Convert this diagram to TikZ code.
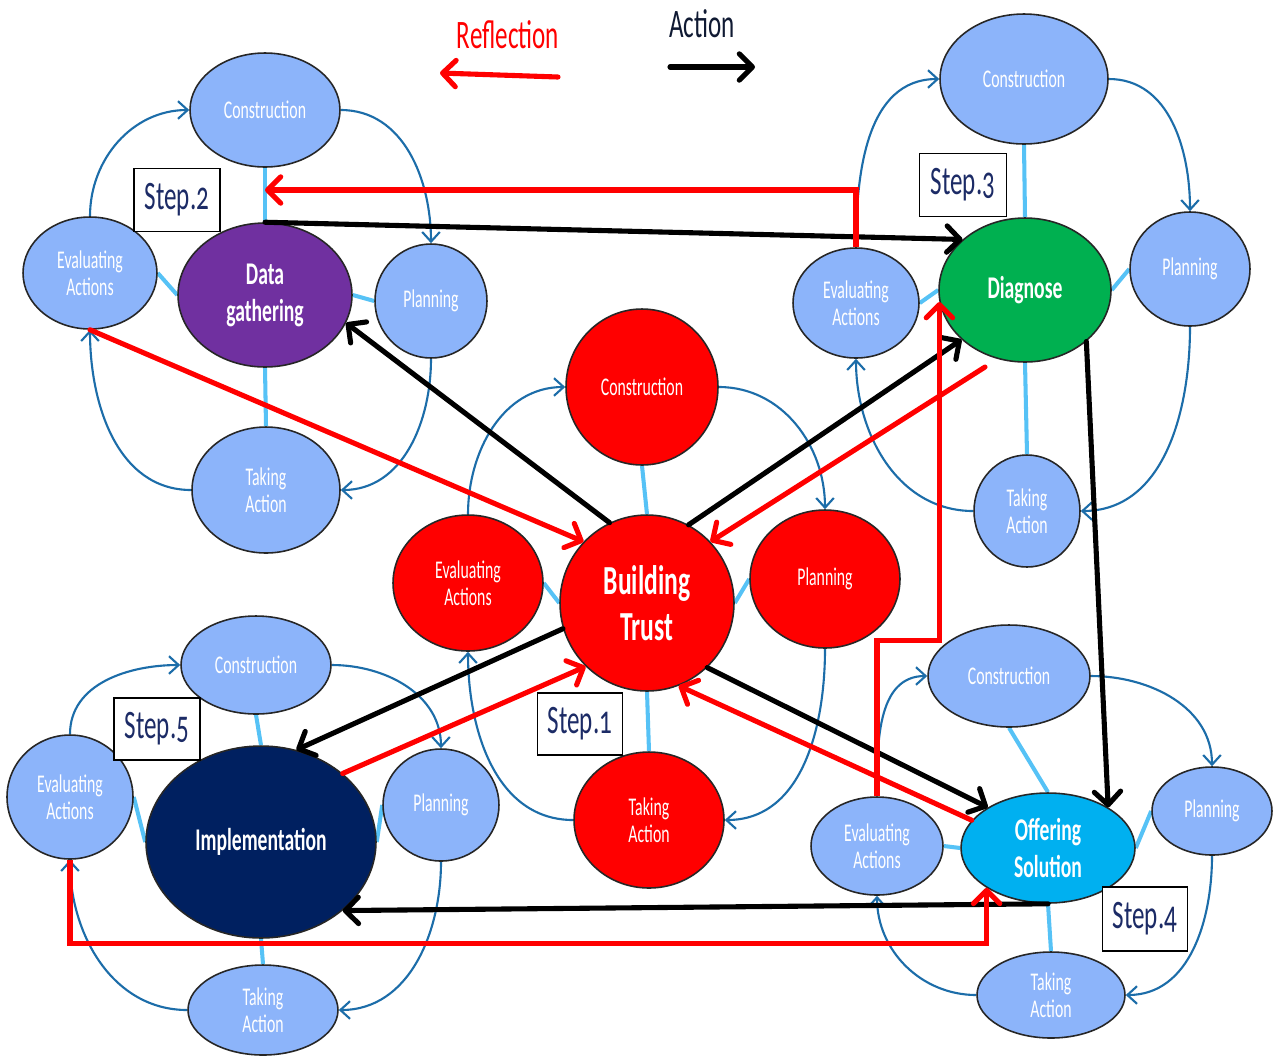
\documentclass[tikz,border=0pt]{standalone}
\usepackage{fontspec}
\setmainfont[FakeStretch=0.62]{Carlito}
\usetikzlibrary{arrows.meta, shapes.geometric, backgrounds}
\definecolor{satblue}{HTML}{8CB4FA}
\definecolor{spokeblue}{HTML}{56C2F6}
\definecolor{cycblue}{HTML}{1C6DA9}
\definecolor{dgpurple}{HTML}{7030A0}
\definecolor{diagreen}{HTML}{00B050}
\definecolor{oscyan}{HTML}{00B0F0}
\definecolor{impnavy}{HTML}{002060}
\definecolor{stepnavy}{HTML}{1C2B66}
\definecolor{actnavy}{HTML}{101A33}

\begin{document}
\begin{tikzpicture}[x=0.02cm, y=0.02cm, every node/.style={inner sep=0pt},
    sat/.style={ellipse, draw=black!85, line width=0.9pt, fill=satblue, text=white,
      align=center, font=\fontsize{14.5}{15.5}\selectfont},
    redsat/.style={sat, fill=red},
    hub/.style={ellipse, draw=black!85, line width=0.9pt, text=white, align=center,
      font=\fontsize{18}{21}\selectfont\bfseries},
    sz/.style 2 args={minimum width=#1cm, minimum height=#2cm},
    spoke/.style={draw=spokeblue, line width=2.3pt},
    cyc/.style={draw=cycblue, line width=1.2pt, -{Straight Barb[length=5.5pt,width=10pt]}},
    actline/.style={line width=2.9pt, line cap=round, -{Straight Barb[length=7.5pt,width=15pt,round]}},
    refline/.style={actline, draw=red},
    stepbox/.style={draw, line width=0.8pt, fill=white, text=stepnavy,
      font=\fontsize{23}{23}\selectfont\addfontfeatures{Numbers=OldStyle}},
  ]
  % step 1 - building trust
  \node[hub, sz={3.48}{3.52}, fill=red, font=\fontsize{23.5}{26}\selectfont\bfseries] (h1) at (647,-603) {Building\\Trust};
  \node[redsat, sz={3.04}{3.12}] (co1) at (642,-387) {Construction};
  \node[redsat, sz={3}{2.76}] (pl1) at (825,-579) {Planning};
  \node[redsat, sz={3}{2.72}] (ta1) at (649,-820) {Taking\\Action};
  \node[redsat, sz={3}{2.72}] (ev1) at (468,-583) {Evaluating\\Actions};
  % step 2 - data gathering
  \node[hub, sz={3.48}{2.88}, fill=dgpurple] (h2) at (265,-295) {Data\\gathering};
  \node[sat, sz={3}{2.28}] (co2) at (265,-110) {Construction};
  \node[sat, sz={2.24}{2.28}] (pl2) at (431,-301) {Planning};
  \node[sat, sz={2.96}{2.52}] (ta2) at (266,-490) {Taking\\Action};
  \node[sat, sz={2.68}{2.24}] (ev2) at (90,-273) {Evaluating\\Actions};
  % step 3 - diagnose
  \node[hub, sz={3.44}{2.88}, fill=diagreen] (h3) at (1025,-290) {Diagnose};
  \node[sat, sz={3.36}{2.6}] (co3) at (1024,-79) {Construction};
  \node[sat, sz={2.4}{2.28}] (pl3) at (1190,-269) {Planning};
  \node[sat, sz={2.12}{2.24}] (ta3) at (1027,-511) {Taking\\Action};
  \node[sat, sz={2.52}{2.2}] (ev3) at (856,-303) {Evaluating\\Actions};
  % step 4 - offering solution
  \node[hub, sz={3.48}{2.2}, fill=oscyan] (h4) at (1048,-848) {Offering\\Solution};
  \node[sat, sz={3.24}{2.04}] (co4) at (1009,-676) {Construction};
  \node[sat, sz={2.4}{1.76}] (pl4) at (1212,-811) {Planning};
  \node[sat, sz={2.96}{1.72}] (ta4) at (1051,-995) {Taking\\Action};
  \node[sat, sz={2.64}{1.96}] (ev4) at (877,-846) {Evaluating\\Actions};
  % step 5 - implementation
  \node[hub, sz={4.6}{3.84}, fill=impnavy] (h5) at (261,-842) {Implementation};
  \node[sat, sz={3}{1.96}] (co5) at (256,-665) {Construction};
  \node[sat, sz={2.32}{2.24}] (pl5) at (441,-805) {Planning};
  \node[sat, sz={3}{1.8}] (ta5) at (263,-1010) {Taking\\Action};
  \node[sat, sz={2.52}{2.48}] (ev5) at (70,-797) {Evaluating\\Actions};

  \begin{scope}[on background layer]
    \fill[white] (0,0) rectangle (1274,-1056);
    \foreach \i in {1,...,5}{
      \draw[spoke] (co\i.south) -- (h\i.north);
      \draw[spoke] (pl\i.west) -- (h\i.east);
      \draw[spoke] (ta\i.north) -- (h\i.south);
      \draw[spoke] (ev\i.east) -- (h\i.west);
      \draw[cyc] (ev\i.north) to[out=90,in=180] (co\i.west);
      \draw[cyc] (co\i.east) to[out=0,in=90] (pl\i.north);
      \draw[cyc] (pl\i.south) to[out=-90,in=0] (ta\i.east);
      \draw[cyc] (ta\i.west) to[out=180,in=-90] (ev\i.south);
    }
  \end{scope}

  % step labels
  \node[stepbox, sz={1.7}{1.24}] (st1) at (580,-724) {Step.1};
  \node[stepbox, sz={1.72}{1.26}] (st2) at (177,-200) {Step.2};
  \node[stepbox, sz={1.74}{1.26}] (st3) at (963,-185) {Step.3};
  \node[stepbox, sz={1.7}{1.28}] (st4) at (1145,-919) {Step.4};
  \node[stepbox, sz={1.72}{1.24}] (st5) at (157,-729) {Step.5};

  % action
  \draw[actline] (h2.north) -- (h3.141);
  \draw[actline] (h1.115) -- (h2.-19);
  \draw[actline] (h1.62) -- (h3.218);
  \draw[actline] (h3.-40) -- (h4.34);
  \draw[actline] (h1.-47) -- (h4.146);
  \draw[actline] (h4.south) -- (h5.-40);
  \draw[actline] (h1.-163) -- (h5.69);

  % reflection
  \coordinate (rf1) at (265,-190);
  \coordinate (rf2) at (985,-367);
  \draw[refline, line cap=butt] (ev3.north) |- (rf1);
  \draw[refline] (ev2.south) -- (h1.136);
  \draw[refline] (rf2) -- (h1.44);
  \draw[refline] (h4.160) -- (h1.-69);
  \draw[refline, line cap=butt] (ev4.north) -- ++(0,156) -| (h3.188);
  \draw[refline] (h5.40) -- (h1.226);
  \draw[refline, line cap=butt] (ev5.south) -- ++(0,-84) -| (h4.-147);

  % legend
  \node[text=red, font=\fontsize{23}{23}\selectfont] (lgrfl) at (508,-35) {Reflection};
  \node[text=actnavy, font=\fontsize{23}{23}\selectfont] (lgact) at (702,-24) {Action};
  \coordinate (lgr1) at (558,-77);
  \coordinate (lgr2) at (440,-73);
  \coordinate (lga1) at (670,-67);
  \coordinate (lga2) at (755,-67);
  \draw[refline] (lgr1) -- (lgr2);
  \draw[actline] (lga1) -- (lga2);
\end{tikzpicture}
\end{document}
